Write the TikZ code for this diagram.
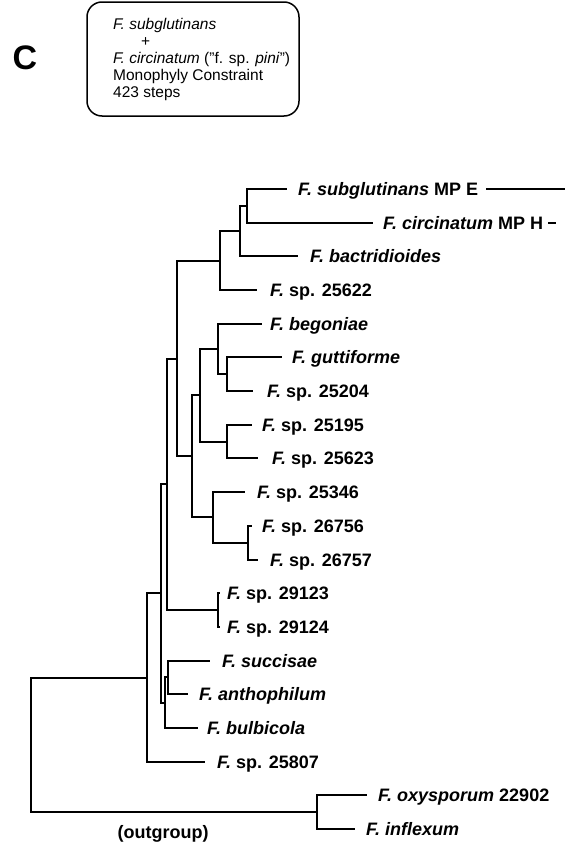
\documentclass[tikz,border=0pt]{standalone}
\usepackage{fontspec}
\setmainfont{Liberation Sans}
\begin{document}
\begin{tikzpicture}[x=1pt,y=-1pt,
  branch/.style={line width=2pt, line join=miter},
  lab/.style={anchor=west, inner sep=0pt, text height=13pt, text depth=0pt,
              font=\fontsize{18}{20}\selectfont\bfseries},
  frame/.style={draw, line width=1.5pt, rounded corners=15pt, inner sep=0pt},
  boxtext/.style={anchor=west, inner sep=0pt, align=left,
              font=\fontsize{15.5}{17}\selectfont},
  panel/.style={inner sep=0pt, font=\fontsize{34}{34}\selectfont\bfseries}]
\useasboundingbox (0,0) rectangle (565,846);

% header
\node[panel] (C) at (25,58) {C};
\node[frame, minimum width=212pt, minimum height=114pt] (box) at (193,59) {};
\node[boxtext] (boxtxt) at (113,59) {\textit{F. subglutinans}\\
\hspace*{28pt}+\\
\textit{F. circinatum} ("f. sp. \textit{pini}")\\
Monophyly Constraint\\
423 steps};

% tip labels
\node[lab] (t0)  at (298,189.0) {\textit{F. subglutinans} MP E};
\node[lab] (t1)  at (383,222.7) {\textit{F. circinatum} MP H};
\node[lab] (t2)  at (310,256.4) {\textit{F. bactridioides}};
\node[lab] (t3)  at (270,290.0) {\textit{F.} sp. 25622};
\node[lab] (t4)  at (270,323.7) {\textit{F. begoniae}};
\node[lab] (t5)  at (292,357.4) {\textit{F. guttiforme}};
\node[lab] (t6)  at (267,391.1) {\textit{F.} sp. 25204};
\node[lab] (t7)  at (262,424.8) {\textit{F.} sp. 25195};
\node[lab] (t8)  at (272,458.4) {\textit{F.} sp. 25623};
\node[lab] (t9)  at (257,492.1) {\textit{F.} sp. 25346};
\node[lab] (t10) at (262,525.8) {\textit{F.} sp. 26756};
\node[lab] (t11) at (270,559.5) {\textit{F.} sp. 26757};
\node[lab] (t12) at (227,593.2) {\textit{F.} sp. 29123};
\node[lab] (t13) at (227,626.8) {\textit{F.} sp. 29124};
\node[lab] (t14) at (222,660.5) {\textit{F. succisae}};
\node[lab] (t15) at (199,694.2) {\textit{F. anthophilum}};
\node[lab] (t16) at (207,727.9) {\textit{F. bulbicola}};
\node[lab] (t17) at (217,761.6) {\textit{F.} sp. 25807};
\node[lab] (t18) at (378,795.2) {\textit{F. oxysporum} 22902};
\node[lab] (t19) at (366,828.9) {\textit{F. inflexum}};
\node[lab, anchor=center] (og) at (163,832) {(outgroup)};

% tip line ends
\coordinate (e0)  at (287,189.0);
\coordinate (e1)  at (373,222.7);
\coordinate (e2)  at (298,256.4);
\coordinate (e3)  at (257,290.0);
\coordinate (e4)  at (262,323.7);
\coordinate (e5)  at (282,357.4);
\coordinate (e6)  at (253,391.1);
\coordinate (e7)  at (252,424.8);
\coordinate (e8)  at (258,458.4);
\coordinate (e9)  at (245,492.1);
\coordinate (e10) at (252,525.8);
\coordinate (e11) at (258,559.5);
\coordinate (e12) at (220,593.2);
\coordinate (e13) at (220,626.8);
\coordinate (e14) at (210,660.5);
\coordinate (e15) at (188,694.2);
\coordinate (e16) at (198,727.9);
\coordinate (e17) at (205,761.6);
\coordinate (e18) at (367,795.2);
\coordinate (e19) at (355,828.9);
\coordinate (eR)  at (565,189.0);

% internal nodes
\coordinate (nC) at (247,205.9);
\coordinate (nB) at (240,231.1);
\coordinate (nA) at (220,260.6);
\coordinate (nN) at (227,374.2);
\coordinate (nL) at (218,349.0);
\coordinate (nM) at (227,441.6);
\coordinate (nJ) at (200,395.3);
\coordinate (nP) at (248,542.6);
\coordinate (nK) at (213,517.4);
\coordinate (nH) at (192,456.3);
\coordinate (nD) at (177,358.5);
\coordinate (nQ) at (218,610.0);
\coordinate (nE) at (167,484.2);
\coordinate (nS) at (168,677.4);
\coordinate (nG) at (165,702.6);
\coordinate (nF) at (161,593.4);
\coordinate (nI) at (147,677.5);
\coordinate (nO) at (317,812.1);
\coordinate (nR) at (31,744.8);

% branches
\draw[branch] (nC) |- (e0);
\draw[branch] (nC) |- (e1);
\draw[branch] (nB) |- (nC);
\draw[branch] (nB) |- (e2);
\draw[branch] (nA) |- (nB);
\draw[branch] (nA) |- (e3);
\draw[branch] (nN) |- (e5);
\draw[branch] (nN) |- (e6);
\draw[branch] (nL) |- (e4);
\draw[branch] (nL) |- (nN);
\draw[branch] (nM) |- (e7);
\draw[branch] (nM) |- (e8);
\draw[branch] (nJ) |- (nL);
\draw[branch] (nJ) |- (nM);
\draw[branch] (nP) |- (e10);
\draw[branch] (nP) |- (e11);
\draw[branch] (nK) |- (e9);
\draw[branch] (nK) |- (nP);
\draw[branch] (nH) |- (nJ);
\draw[branch] (nH) |- (nK);
\draw[branch] (nD) |- (nA);
\draw[branch] (nD) |- (nH);
\draw[branch] (nQ) |- (e12);
\draw[branch] (nQ) |- (e13);
\draw[branch] (nE) |- (nD);
\draw[branch] (nE) |- (nQ);
\draw[branch] (nS) |- (e14);
\draw[branch] (nS) |- (e15);
\draw[branch] (nG) |- (nS);
\draw[branch] (nG) |- (e16);
\draw[branch] (nF) |- (nE);
\draw[branch] (nF) |- (nG);
\draw[branch] (nI) |- (nF);
\draw[branch] (nI) |- (e17);
\draw[branch] (nO) |- (e18);
\draw[branch] (nO) |- (e19);
\draw[branch] (nR) |- (nI);
\draw[branch] (nR) |- (nO);

% trailing marks after truncated labels
\draw[branch] ([xshift=8pt]t0.east) -- (eR);
\draw[branch] ([xshift=5pt]t1.east) -- ([xshift=13pt]t1.east);
\end{tikzpicture}
\end{document}
